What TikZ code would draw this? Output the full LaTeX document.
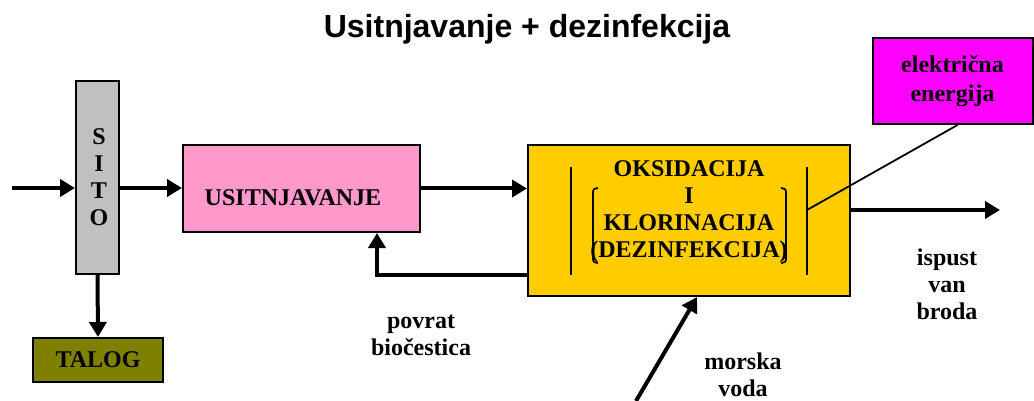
\documentclass[tikz,border=0pt]{standalone}
\usepackage{fontspec}
\setmainfont{Liberation Serif}
\newfontfamily\titlefont{Liberation Sans}
\usetikzlibrary{arrows.meta,calc}

\definecolor{sitogray}{HTML}{C0C0C0}
\definecolor{usitpink}{HTML}{FF99CC}
\definecolor{oksyellow}{HTML}{FFCC00}
\definecolor{elecmagenta}{HTML}{FF00FF}
\definecolor{talogolive}{HTML}{808000}

\tikzset{
  box/.style={draw, line width=2pt, inner sep=0pt},
  flow/.style={line width=4pt, -{Triangle[length=15pt,width=17pt]}},
  bar/.style={line width=1.8pt},
  lbl/.style={font=\fontsize{24}{27}\selectfont\bfseries, align=center},
}

\begin{document}
\begin{tikzpicture}[x=1pt,y=-1pt]
    \useasboundingbox (0,0) rectangle (1034,401);
    % Naslov
    \node (title) at (527,29) {\titlefont\bfseries\fontsize{32}{36}\selectfont Usitnjavanje + dezinfekcija};

    % Sito i talog
    \node [box, fill=sitogray, minimum width=43pt, minimum height=193pt] (sito) at (97.5,177.5) {};
    \node [lbl, text depth=0pt] (sitotext) at (99,177) {S\\I\\T\\O};
    \node [box, fill=talogolive, minimum width=130pt, minimum height=44pt, lbl] (talog) at (98,360) {TALOG};

    % Usitnjavanje
    \node [box, fill=usitpink, minimum width=237pt, minimum height=87pt] (usit) at (301.5,188.5) {};
    \node [lbl] (usittext) at (293,198) {USITNJAVANJE};

    % Oksidacija i klorinacija
    \node [box, fill=oksyellow, minimum width=322pt, minimum height=151pt] (oks) at (689,220.5) {};
    \node [lbl] (okstext) at (689,212) {OKSIDACIJA\\I\\KLORINACIJA\\(DEZINFEKCIJA)};
    \draw [bar] (571,167) -- (571,275);
    \draw [bar] (807,167) -- (807,275);
    \draw [bar] (598,188) .. controls (593,189) .. (593,195) -- (593,256) .. controls (593,262) .. (598,263);
    \draw [bar] (781,188) .. controls (786,189) .. (786,195) -- (786,256) .. controls (786,262) .. (781,263);

    % Elektricna energija
    \node [box, fill=elecmagenta, minimum width=160pt, minimum height=86pt, lbl, font=\fontsize{24}{29}\selectfont\bfseries] (elec) at (952.5,81) {električna\\energija};
    \coordinate (barpt) at (807,210);
    \draw [bar] (barpt) -- ([xshift=5pt]elec.south);

    % Tokovi
    \coordinate (in) at (12,188);
    \draw [flow] (in) -- (sito.west |- in);
    \draw [flow] (sito.east |- in) -- (usit.west |- in);
    \draw [flow] (usit.east) -- (oks.west |- usit.east);
    \draw [flow] (sito.south) -- (talog.north);
    \coordinate (out) at (1000,210);
    \draw [flow] (oks.east |- out) -- (out);
    \coordinate (ret) at (377,275);
    \draw [flow] (oks.west |- ret) -| (usit.south -| ret);
    \coordinate (sea) at (636,401);
    \draw [flow] (sea) -- ([xshift=8pt]oks.south);

    % Oznake
    \node [lbl] (ispust) at (947,284) {ispust\\van\\broda};
    \node [lbl] (povrat) at (421,335) {povrat\\biočestica};
    \node [lbl] (morska) at (743,375) {morska\\voda};
\end{tikzpicture}
\end{document}
